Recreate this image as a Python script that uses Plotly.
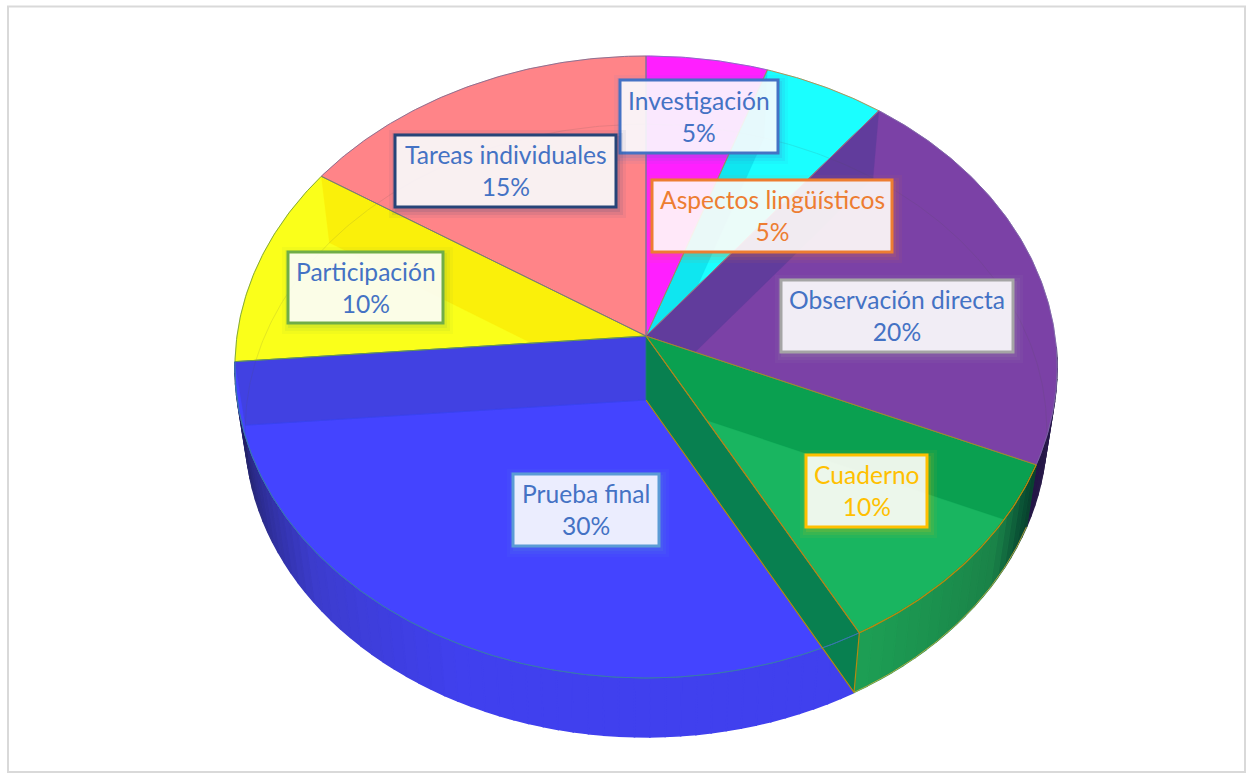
import math
import plotly.graph_objects as go

# ---------- data ----------
categories = ["Investigación", "Aspectos lingüísticos", "Observación directa", "Cuaderno",
              "Prueba final", "Participación", "Tareas individuales"]
values = [5, 5, 20, 10, 30, 10, 15]
pct_labels = ["5%", "5%", "20%", "10%", "30%", "10%", "15%"]

# ---------- styles ----------
face_colors = ["#FF1FFF", "#1AFFFF", "#7B41A6", "#19B560", "#4444FF", "#FAFF1A", "#FF8488"]
wall_colors = [None, "#0FE6F0", "#613C9C", "#0AA050", "#4141E2", "#FAF00A", None]
edge_colors = ["#7A6FC0", "#C8803A", "#7F6AA8", "#B58A10", "#3A78B0", "#6E9A3C", "#7A6A90"]
label_colors = ["#4472C4", "#ED7D31", "#4472C4", "#FFC000", "#4472C4", "#4472C4", "#4472C4"]
box_colors = ["#4472C4", "#ED7D31", "#A5A5A5", "#FFC000", "#5B9BD5", "#70AD47", "#264478"]
# label boxes in pixels: left, right, top, bottom
boxes = [(620, 778, 80, 153), (652, 892, 180, 252), (781, 1013, 280, 352), (806, 927, 455, 527),
         (513, 659, 474, 546), (288, 443, 252, 323), (395, 616, 135, 207)]
FONT = "Lato"
FSIZE = 24.6

# ---------- projection of the tilted pie ----------
CX, CY = 646.0, 336.0
A, B, PERSP = 409.0, 307.9, 0.0997
DROP, SHRINK_X, SHRINK_Y = 64.0, 0.975, 0.985


def rim(deg, bottom=False, r=1.0):
    t = math.radians(deg)
    X, Y = r * math.sin(t), r * math.cos(t)
    w = 1 + PERSP * Y
    dx, dy = A * X / w, -B * Y / w
    if bottom:
        return (CX + SHRINK_X * dx, CY + DROP + SHRINK_Y * dy)
    return (CX + dx, CY + dy)


def arc(a0, a1, bottom=False, n=None):
    n = n or max(2, int(abs(a1 - a0) * 1.5))
    return [rim(a0 + (a1 - a0) * i / n, bottom) for i in range(n + 1)]


def clip(poly, p, q, keep_point):
    """Keep the part of poly on the same side of line p-q as keep_point."""
    def side(pt):
        return (q[0] - p[0]) * (pt[1] - p[1]) - (q[1] - p[1]) * (pt[0] - p[0])
    sgn = 1 if side(keep_point) >= 0 else -1
    out = []
    for i, a in enumerate(poly):
        b = poly[(i + 1) % len(poly)]
        sa, sb = side(a) * sgn, side(b) * sgn
        if sa >= 0:
            out.append(a)
        if sa * sb < 0:
            s = sa / (sa - sb)
            out.append((a[0] + s * (b[0] - a[0]), a[1] + s * (b[1] - a[1])))
    return out


fig = go.Figure()


def fill(poly, color, lw=0.6):
    xs = [p[0] for p in poly] + [poly[0][0]]
    ys = [p[1] for p in poly] + [poly[0][1]]
    fig.add_trace(go.Scatter(x=xs, y=ys, mode="lines", fill="toself", fillcolor=color,
                             line=dict(color=color, width=lw), hoverinfo="skip", showlegend=False))


def stroke(pts, color, width=1.0, opacity=1.0):
    fig.add_trace(go.Scatter(x=[p[0] for p in pts], y=[p[1] for p in pts], mode="lines",
                             line=dict(color=color, width=width), opacity=opacity,
                             hoverinfo="skip", showlegend=False))


def lerp_color(stops, t):
    for (t0, c0), (t1, c1) in zip(stops, stops[1:]):
        if t0 <= t <= t1:
            s = (t - t0) / (t1 - t0)
            rgb = [round(c0[i] + s * (c1[i] - c0[i])) for i in range(3)]
            return "rgb(%d,%d,%d)" % tuple(rgb)
    return "rgb(%d,%d,%d)" % tuple(stops[-1][1])


# angular limits of each slice, clockwise from 12 o'clock
total = sum(values)
bounds = [0.0]
for v in values:
    bounds.append(bounds[-1] + 360.0 * v / total)

# side walls (shading by angle)
side_shades = {
    2: [(90, (42, 26, 80)), (114, (36, 22, 70))],
    3: [(113, (8, 60, 44)), (118, (10, 80, 52)), (126, (26, 130, 72)), (152, (29, 160, 85))],
    4: [(150, (64, 64, 238)), (205, (64, 64, 238)), (230, (60, 60, 205)), (250, (42, 42, 135)),
        (268, (26, 26, 80))],
}


def side_strip(i):
    stops = side_shades[i]
    a0 = max(bounds[i], 92) if i == 2 else bounds[i]
    a1 = bounds[i + 1]
    n = int((a1 - a0) / 2.0) + 1
    for k in range(n):
        s0 = a0 + (a1 - a0) * k / n
        s1 = a0 + (a1 - a0) * (k + 1) / n
        quad = arc(s0, s1, n=2) + arc(s1, s0, bottom=True, n=2)
        fill(quad, lerp_color(stops, (s0 + s1) / 2), lw=1.6)


side_strip(2)
side_strip(4)

# top faces
apex = rim(0, r=0.0)
apex_b = rim(0, bottom=True, r=0.0)
for i, c in enumerate(face_colors):
    fill([apex] + arc(bounds[i], bounds[i + 1]), c)

# radial walls seen through the translucent faces
for i, c in enumerate(wall_colors):
    if c is None:
        continue
    a0, a1 = bounds[i], bounds[i + 1]
    edge = a0 if (a0 + a1) / 2 < 180 else a1
    wall = [apex, rim(edge), rim(edge, True), apex_b]
    mid = rim((a0 + a1) / 2)
    for b in (a0, a1):
        wall = clip(wall, apex, rim(b), mid)
    fill(wall, c, lw=0.3)

# green side goes over its wall so the wall stops at the rim
side_strip(3)

# faint far rim of the bottom disc
for i in (0, 1, 2, 5, 6):
    a0, a1 = bounds[i], bounds[i + 1]
    stroke(arc(a0, a1, True), "#505050", 1, 0.13)
stroke(arc(bounds[5] - 22, bounds[5], True), "#505050", 1, 0.1)

# dark radial wall of the green slice, drawn over the blue face
g_end = bounds[4]
g_wall = [apex, rim(g_end), rim(g_end, True), apex_b]
fill(g_wall, "#088050")

# edges of the slices
for i, c in enumerate(edge_colors):
    a0, a1 = bounds[i], bounds[i + 1]
    stroke([apex] + arc(a0, a1) + [apex], c, 1.0, 0.85)
stroke(arc(bounds[4], bounds[5]), edge_colors[4], 1.0, 0.9)
stroke([apex, rim(g_end)], edge_colors[3], 1.2)
stroke([apex_b, rim(g_end, True), rim(g_end)], edge_colors[3], 1.2)
stroke(arc(bounds[3], bounds[4]), edge_colors[3], 1.2)
stroke(arc(bounds[3], bounds[4], True), "#D8B040", 0.8)
stroke([apex, apex_b], "#3A78B0", 0.8, 0.5)
stroke([apex_b, rim(bounds[5], True)], "#3A44F0", 1.0, 0.9)

# frame and label boxes
shapes = [dict(type="rect", xref="x", yref="y", x0=8, x1=1245, y0=6.5, y1=772,
               line=dict(color="#D9D9D9", width=2), fillcolor="rgba(0,0,0,0)", layer="below")]
annotations = []
for name, pct, tc, bc, (l, r, t, b) in zip(categories, pct_labels, label_colors, box_colors, boxes):
    for grow, alpha in ((8, 0.06), (5, 0.09), (2, 0.12)):
        shapes.append(dict(type="rect", xref="x", yref="y", x0=l - grow + 2, x1=r + grow + 2,
                           y0=t - grow + 3, y1=b + grow + 3, line=dict(width=0),
                           fillcolor=bc, opacity=alpha, layer="above"))
    shapes.append(dict(type="rect", xref="x", yref="y", x0=l, x1=r, y0=t, y1=b,
                       line=dict(color=bc, width=3), fillcolor="rgba(255,255,255,0.89)", layer="above"))
    annotations.append(dict(x=(l + r) / 2, y=(t + b) / 2 - 0.5, xref="x", yref="y", showarrow=False,
                            text=f"{name}<br>{pct}", align="center",
                            font=dict(family=FONT, size=FSIZE, color=tc)))

fig.update_layout(
    width=1248, height=777, autosize=False,
    margin=dict(l=0, r=0, t=0, b=0),
    paper_bgcolor="white", plot_bgcolor="white", showlegend=False,
    xaxis=dict(range=[0, 1248], visible=False, fixedrange=True),
    yaxis=dict(range=[777, 0], visible=False, fixedrange=True),
    shapes=shapes, annotations=annotations,
)
fig.write_html("out.html", config={"displayModeBar": False},
               post_script="document.body.style.margin='0';document.body.style.overflow='hidden';")
